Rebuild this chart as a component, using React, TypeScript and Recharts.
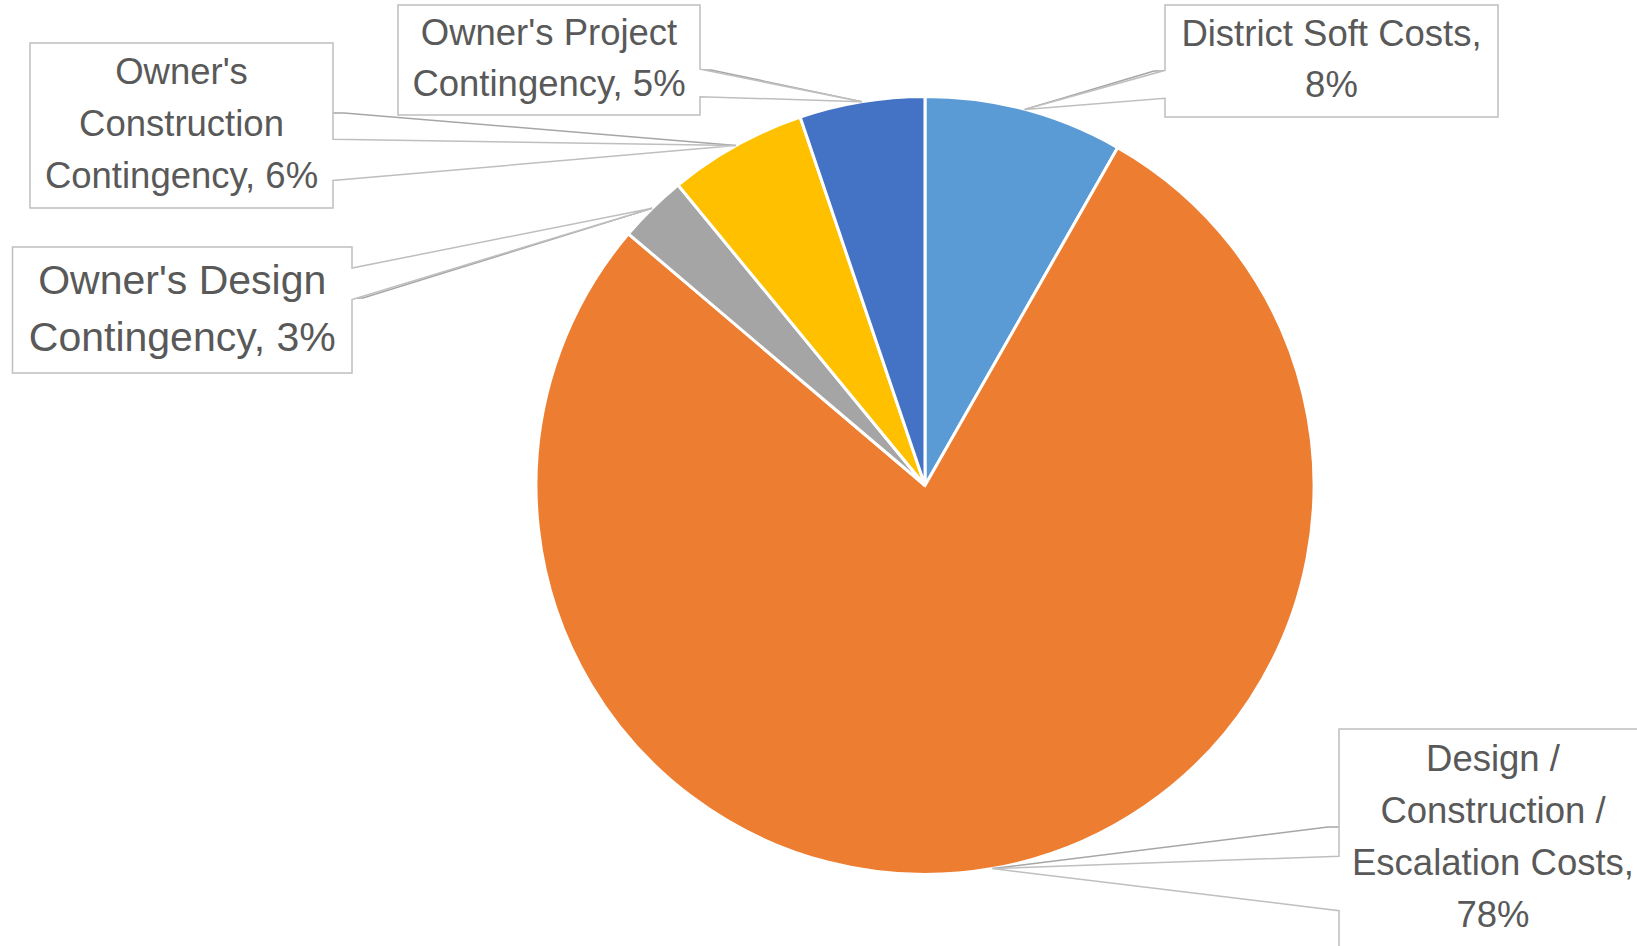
import { Cell, Pie, PieChart } from 'recharts'

// slices, clockwise from 12 o'clock
const NAMES = [
  'District Soft Costs',
  'Design / Construction / Escalation Costs',
  "Owner's Design Contingency",
  "Owner's Construction Contingency",
  "Owner's Project Contingency",
]
const VALUES = [8.25, 77.95, 2.85, 5.75, 5.2]
const COLORS = ['#5B9BD5', '#ED7D31', '#A5A5A5', '#FFC000', '#4472C4']

const data = NAMES.map((name, i) => ({ name, value: VALUES[i] }))

// callout box layout, same order as the slices
const BOXES = [
  { x: 1165, y: 5, w: 333, h: 112, side: 'left', lead: 0.59, words: [3, 1], font: 36.5, lh: 51 },
  { x: 1339, y: 729, w: 308, h: 218, side: 'left', lead: 0.45, words: [2, 2, 2, 1], font: 36.5, lh: 52 },
  { x: 12.5, y: 247, w: 339.5, h: 126, side: 'right', lead: 0.405, words: [2, 2], font: 41, lh: 57 },
  { x: 30, y: 43, w: 303, h: 165, side: 'right', lead: 0.424, words: [1, 1, 2], font: 36.5, lh: 52 },
  { x: 398, y: 5, w: 302, h: 110, side: 'right', lead: 0.59, words: [2, 2], font: 36.5, lh: 51 },
]

const RAD = Math.PI / 180

function Callout(props: any) {
  const { cx, cy, midAngle, outerRadius, index, percent, payload } = props
  const b = BOXES[index]
  if (!b) return null
  const ax = cx + outerRadius * Math.cos(-midAngle * RAD)
  const ay = cy + outerRadius * Math.sin(-midAngle * RAD)
  const l = b.x
  const r = b.x + b.w
  const t = b.y
  const bt = b.y + b.h
  const edge = b.side === 'left' ? l : r
  const stub = b.side === 'left' ? edge - 11 : edge + 11
  const below = ay > b.y + b.h / 2
  const y1 = b.y + (b.h * (below ? 7 : 2)) / 12
  const y2 = b.y + (b.h * (below ? 10 : 5)) / 12
  const ly = b.y + b.h * b.lead
  const path =
    b.side === 'left'
      ? `M${l},${t} L${r},${t} L${r},${bt} L${l},${bt} L${l},${y2} L${ax},${ay} L${l},${y1} Z`
      : `M${l},${t} L${r},${t} L${r},${y1} L${ax},${ay} L${r},${y2} L${r},${bt} L${l},${bt} Z`

  const words = `${payload.name}, ${Math.round(percent * 100)}%`.split(' ')
  const lines: string[] = []
  let k = 0
  b.words.forEach((n) => {
    lines.push(words.slice(k, k + n).join(' '))
    k += n
  })
  const mid = b.y + b.h / 2 - 2

  return (
    <g>
      <polyline
        points={`${ax},${ay} ${stub},${ly} ${edge},${ly}`}
        fill="none"
        stroke="#A6A6A6"
        strokeWidth={1.5}
      />
      <path d={path} fill="#fff" stroke="#BFBFBF" strokeWidth={1.5} />
      {lines.map((s, i) => (
        <text
          key={i}
          x={l + b.w / 2}
          y={mid + (i - (lines.length - 1) / 2) * b.lh}
          textAnchor="middle"
          dominantBaseline="central"
          fill="#595959"
          fontSize={b.font}
          fontFamily="'Liberation Sans', Arial, sans-serif"
        >
          {s}
        </text>
      ))}
    </g>
  )
}

export default function App() {
  return (
    <div style={{ width: 1637, height: 946, background: '#fff' }}>
      <style>{'body{margin:0}'}</style>
      <PieChart width={1637} height={946} margin={{ top: 0, right: 0, bottom: 0, left: 0 }}>
        <Pie
          data={data}
          dataKey="value"
          nameKey="name"
          cx={925}
          cy={485.5}
          outerRadius={389}
          startAngle={90}
          endAngle={-270}
          stroke="#fff"
          strokeWidth={3}
          label={Callout}
          labelLine={false}
          isAnimationActive={false}
        >
          {data.map((_, i) => (
            <Cell key={i} fill={COLORS[i]} />
          ))}
        </Pie>
      </PieChart>
    </div>
  )
}
